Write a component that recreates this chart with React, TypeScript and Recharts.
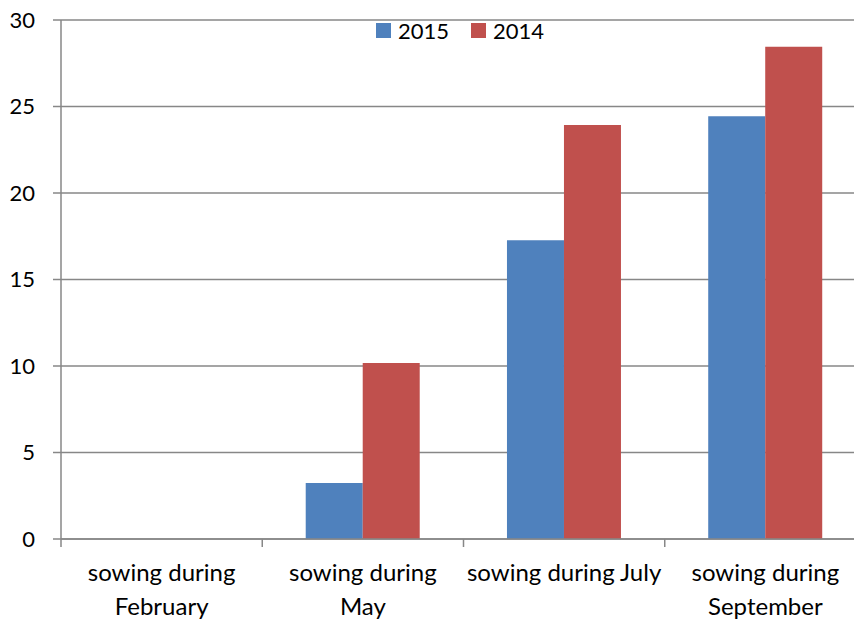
import React from "react";
import { BarChart, Bar, XAxis, YAxis, CartesianGrid } from "recharts";

const categories = ["sowing during February", "sowing during May", "sowing during July", "sowing during September"];
// label lines as drawn under each category
const tickLines = [
  ["sowing during", "February"],
  ["sowing during", "May"],
  ["sowing during July"],
  ["sowing during", "September"],
];
const seriesNames = ["2015", "2014"];
const values2015 = [0, 3.24, 17.27, 24.43];
const values2014 = [0, 10.17, 23.93, 28.46];
const yTicks = [0, 5, 10, 15, 20, 25, 30];

const BLUE = "#4F81BD";
const RED = "#C0504D";
const GRID = "#878787";
const FONT = "Lato, 'Open Sans', sans-serif";

const data = categories.map((name, i) => ({
  name,
  y2015: values2015[i],
  y2014: values2014[i],
}));

const CategoryTick = (props: any) => {
  const { x, y, payload, index } = props;
  const band = 805 / categories.length;
  const lines = tickLines[index] || [payload.value];
  const left = x - band / 2;
  return (
    <g>
      <line x1={left} y1={y - 8} x2={left} y2={y} stroke={GRID} strokeWidth={1.5} />
      {lines.map((ln: string, i: number) => (
        <text
          key={i}
          x={x}
          y={y + 34 + i * 34}
          textAnchor="middle"
          fontSize={24}
          fontFamily={FONT}
          fill="#000"
        >
          {ln}
        </text>
      ))}
    </g>
  );
};

export default function App() {
  return (
    <div style={{ position: "absolute", left: 0, top: 0, width: 854, height: 620, overflow: "hidden", background: "#fff" }}>
      <BarChart
        width={880}
        height={620}
        data={data}
        margin={{ top: 20, right: 14, left: 0, bottom: 0 }}
        barCategoryGap="21.6%"
        barGap={0}
      >
        <CartesianGrid vertical={false} stroke={GRID} strokeWidth={1.5} />
        <XAxis
          dataKey="name"
          height={81}
          interval={0}
          tick={<CategoryTick />}
          tickLine={false}
          axisLine={{ stroke: GRID, strokeWidth: 1.5 }}
        />
        <YAxis
          width={61}
          domain={[0, 30]}
          ticks={yTicks}
          interval={0}
          tickSize={8}
          tickMargin={18}
          tickLine={{ stroke: GRID, strokeWidth: 1.5 }}
          axisLine={{ stroke: GRID, strokeWidth: 1.5 }}
          tick={{ fontSize: 22, fontFamily: FONT, fill: "#000" }}
        />
        <Bar dataKey="y2015" fill={BLUE} isAnimationActive={false} />
        <Bar dataKey="y2014" fill={RED} isAnimationActive={false} />
      </BarChart>
      <div
        style={{
          position: "absolute",
          left: 376,
          top: 17,
          height: 26,
          display: "flex",
          alignItems: "center",
          fontFamily: FONT,
          fontSize: 22,
          color: "#000",
        }}
      >
        <span style={{ width: 15, height: 15, background: BLUE, display: "inline-block", marginRight: 7 }} />
        <span style={{ marginRight: 22 }}>{seriesNames[0]}</span>
        <span style={{ width: 15, height: 15, background: RED, display: "inline-block", marginRight: 7 }} />
        <span>{seriesNames[1]}</span>
      </div>
    </div>
  );
}
